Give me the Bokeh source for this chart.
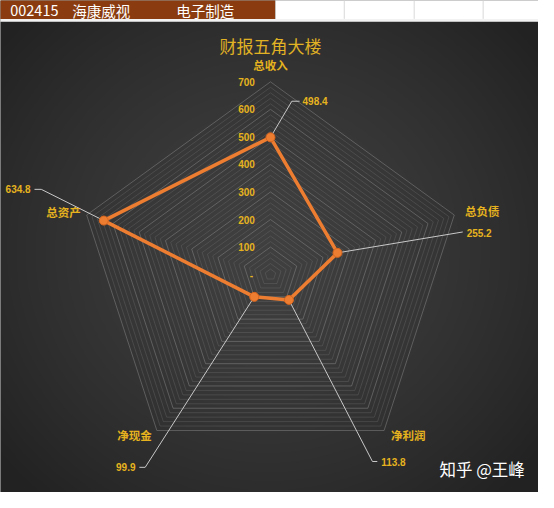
import numpy as np
from bokeh.plotting import figure
from bokeh.models import Range1d
from bokeh.core.properties import value
from bokeh.embed import file_html
from bokeh.resources import INLINE

# ---------------- data ----------------
categories = ["总收入", "总负债", "净利润", "净现金", "总资产"]
values = [498.4, 255.2, 113.8, 99.9, 634.8]
value_labels = ["498.4", "255.2", "113.8", "99.9", "634.8"]
ring_ticks = [100, 200, 300, 400, 500, 600, 700]
ring_tick_labels = ["100", "200", "300", "400", "500", "600", "700"]
zero_label = "-"
r_max = 700
minor_step = 20
title = "财报五角大楼"
stock_code = "002415"
stock_name = "海康威视"
industry = "电子制造"
watermark = "知乎 @王峰"

# ---------------- layout helpers (reference pixel -> data units) ----------------
K = 0.2843          # reference pixels per value unit
CX, CY = 278, 283   # radar centre in reference pixels


def X(px):
    return (px - CX) / K


def Y(py):
    return (CY - py) / K


GOLD = "#e6b31e"
ORANGE = "#ed7d31"
CJK = value("Noto Sans CJK SC")

p = figure(width=538, height=492, x_range=Range1d(X(0), X(554)),
           y_range=Range1d(Y(508), Y(0)), output_backend="svg",
           toolbar_location=None, min_border=0, x_axis_type=None,
           y_axis_type=None)
p.grid.visible = False
p.outline_line_color = None
p.background_fill_color = "#333333"
p.border_fill_color = "#333333"

# ---------------- background: radial gradient ----------------
W, H = 554, 486
yy, xx = np.mgrid[0:H, 0:W]
page_y = 508 - yy
d = np.sqrt(((xx - 275) / 1.0) ** 2 + ((page_y - 260) / 0.95) ** 2)
t = np.clip(d / 360.0, 0, 1)
g = (64 - 30 * t ** 1.4).astype(np.uint32)
img = ((255 << 24) | (g << 16) | (g << 8) | g).astype(np.uint32)
p.image_rgba(image=[img], x=X(0), y=Y(508), dw=W / K, dh=H / K)

# ---------------- header bar ----------------
p.quad(left=X(-2), right=X(283), bottom=Y(19), top=Y(-2), fill_color="#8a3c10",
       line_color=None)
p.quad(left=X(283), right=X(560), bottom=Y(20), top=Y(-2), fill_color="#ffffff",
       line_color=None)
p.quad(left=X(-2), right=X(560), bottom=Y(22), top=Y(19), fill_color="#f2f2f2",
       line_color=None)
for cx in [354, 426, 497]:
    p.line([X(cx), X(cx)], [Y(0), Y(19)], line_color="#d9d9d9", line_width=1)
p.text(x=[X(10), X(74), X(181)], y=[Y(10.5)] * 3,
       text=[stock_code, stock_name, industry], text_color="white",
       text_font=CJK, text_font_size="14.5px", text_baseline="middle",
       text_align="left")

# ---------------- radar grid ----------------
n = len(categories)
ang = np.deg2rad(90 - 72 * np.arange(n))
closed = np.append(ang, ang[0])
xs_minor, ys_minor, xs_major, ys_major = [], [], [], []
for r in range(minor_step, r_max + 1, minor_step):
    xs = list(r * np.cos(closed))
    ys = list(r * np.sin(closed))
    if r % 100 == 0:
        xs_major.append(xs)
        ys_major.append(ys)
    else:
        xs_minor.append(xs)
        ys_minor.append(ys)
p.multi_line(xs_minor, ys_minor, line_color="#7a7a7a", line_alpha=0.3,
             line_width=1)
p.multi_line(xs_major, ys_major, line_color="#8a8a8a", line_alpha=0.5,
             line_width=1)

# ---------------- ring tick labels ----------------
p.text(x=[X(262)] * len(ring_ticks), y=ring_ticks, text=ring_tick_labels,
       text_color=GOLD, text_font=value("Liberation Sans"),
       text_font_style="bold", text_font_size="10px", text_align="right",
       text_baseline="middle")
p.text(x=[X(260)], y=[0], text=[zero_label], text_color=GOLD,
       text_font=value("Liberation Sans"), text_font_style="bold",
       text_font_size="10px", text_align="right", text_baseline="middle")

# ---------------- data points ----------------
vals = np.array(values)
px = vals * np.cos(ang)
py = vals * np.sin(ang)

# leader lines + value labels (layout in reference pixels)
leader_layout = [
    # elbow, end, text position, align
    ((300, 104), (308, 104), (311, 104), "left"),
    ((470, 240), (476, 239), (480, 240), "left"),
    ((383, 476), (388, 476), (392, 477), "left"),
    ((149, 482), (143, 482), (139, 482), "right"),
    ((42, 195), (35, 195), (31, 195), "right"),
]
for i, (elbow, end, tpos, align) in enumerate(leader_layout):
    p.line([px[i], X(elbow[0]), X(end[0])], [py[i], Y(elbow[1]), Y(end[1])],
           line_color="#c8c8c8", line_width=1)
    p.text(x=[X(tpos[0])], y=[Y(tpos[1])], text=[value_labels[i]],
           text_color=GOLD, text_font=value("Liberation Sans"),
           text_font_style="bold", text_font_size="10px", text_align=align,
           text_baseline="middle")

p.line(list(np.append(px, px[0])), list(np.append(py, py[0])),
       line_color=ORANGE, line_width=3.5, line_join="round")
p.scatter(px, py, size=9, fill_color=ORANGE, line_color="#d8661e",
          line_width=1)

# ---------------- category labels ----------------
cat_layout = [(278, 67), (496, 217), (420, 449), (138, 449), (65, 218)]
p.text(x=[X(c[0]) for c in cat_layout], y=[Y(c[1]) for c in cat_layout],
       text=categories, text_color=GOLD, text_font=CJK,
       text_font_style="bold", text_font_size="11.5px", text_align="center",
       text_baseline="middle")

# ---------------- title & watermark ----------------
p.text(x=[X(278)], y=[Y(46)], text=[title], text_color="#e0b224",
       text_font=CJK, text_font_size="17px", text_align="center",
       text_baseline="middle")
p.text(x=[X(452)], y=[Y(484)], text=[watermark], text_color="white",
       text_font=CJK, text_font_size="16.5px", text_align="left",
       text_baseline="middle")

open("out.html", "w").write(file_html(p, INLINE))
